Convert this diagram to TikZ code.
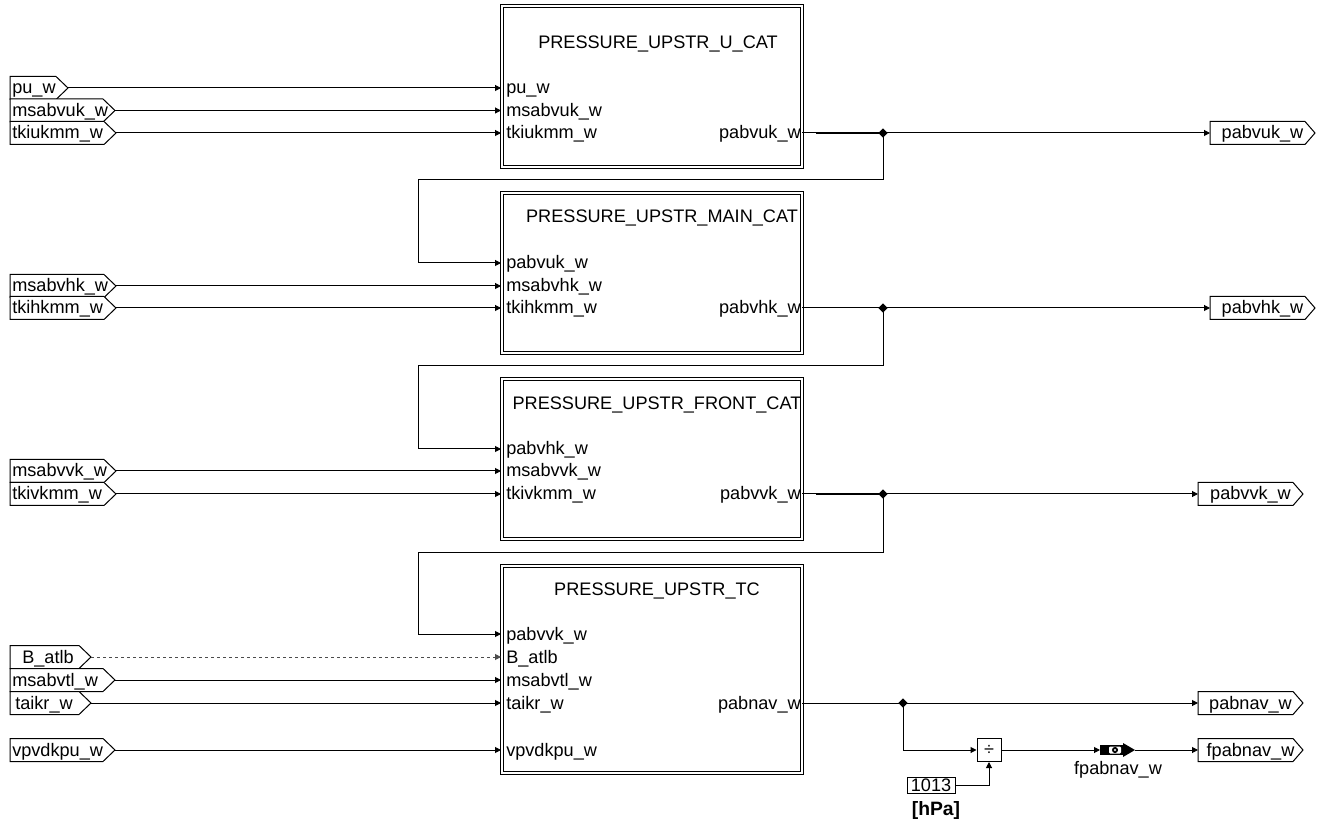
\documentclass[tikz,border=0pt]{standalone}
\usepackage{fontspec}
\setmainfont{Liberation Sans}
\usetikzlibrary{arrows.meta,shapes.geometric}
\newcommand{\intag}[5]{%
  \draw[tagbox] (10,#3-11.5) -- (#4-12,#3-11.5) -- (#4,#3) -- (#4-12,#3+11.5) -- (10,#3+11.5) -- cycle;
  \node[plab] (#1t) at (#5,#3+6) {#2};
  \coordinate (#1) at (#4,#3);}
\newcommand{\outtag}[5]{%
  \draw[tagbox] (#4,#3-11.5) -- (#5-10,#3-11.5) -- (#5,#3) -- (#5-10,#3+11.5) -- (#4,#3+11.5) -- cycle;
  \node[anchor=base,inner sep=0pt] (#1t) at ({(#4+#5)/2},#3+6) {#2};
  \coordinate (#1) at (#4,#3);}
\begin{document}
\begin{tikzpicture}[x=0.75pt,y=-0.75pt,
  font=\fontsize{13.6pt}{16pt}\selectfont,
  ln/.style={line width=0.75pt},
  arr/.style={line width=0.75pt,-{Triangle[length=4.5pt,width=4.5pt]}},
  tagbox/.style={draw,line width=0.75pt,fill=white},
  blk/.style={draw,double,double distance=1.5pt,line width=0.75pt,minimum width=225pt,inner sep=0pt},
  plab/.style={anchor=base west,inner sep=0pt},
  olab/.style={anchor=base east,inner sep=0pt},
  ttl/.style={anchor=base,inner sep=0pt},
  jn/.style={diamond,fill,inner sep=0pt,minimum size=7pt},
  thickseg/.style={line width=1.6pt}]
\useasboundingbox (0,0) rectangle (1318,823);

% blocks
\node[blk,minimum height=120.75pt] (B1) at (651.5,87) {};
\node[blk,minimum height=120pt] (B2) at (651.5,273.5) {};
\node[blk,minimum height=120pt] (B3) at (651.5,459.5) {};
\node[blk,minimum height=155.25pt] (B4) at (651.5,669) {};

% titles
\node[ttl] (T1) at (658,49) {PRESSURE\_UPSTR\_U\_CAT};
\node[ttl] (T2) at (662,223) {PRESSURE\_UPSTR\_MAIN\_CAT};
\node[ttl] (T3) at (657,410) {PRESSURE\_UPSTR\_FRONT\_CAT};
\node[ttl] (T4) at (657,595) {PRESSURE\_UPSTR\_TC};

% port labels block 1
\node[plab] (p11) at (506,94) {pu\_w};
\node[plab] (p12) at (506,117) {msabvuk\_w};
\node[plab] (p13) at (506,139) {tkiukmm\_w};
\node[olab] (q1) at (801,139) {pabvuk\_w};
% block 2
\node[plab] (p21) at (506,269) {pabvuk\_w};
\node[plab] (p22) at (506,292) {msabvhk\_w};
\node[plab] (p23) at (506,314) {tkihkmm\_w};
\node[olab] (q2) at (801,314) {pabvhk\_w};
% block 3
\node[plab] (p31) at (506,455) {pabvhk\_w};
\node[plab] (p32) at (506,477) {msabvvk\_w};
\node[plab] (p33) at (506,500) {tkivkmm\_w};
\node[olab] (q3) at (801,500) {pabvvk\_w};
% block 4
\node[plab] (p41) at (506,640) {pabvvk\_w};
\node[plab] (p42) at (506,663) {B\_atlb};
\node[plab] (p43) at (506,686) {msabvtl\_w};
\node[plab] (p44) at (506,709) {taikr\_w};
\node[plab] (p45) at (506,756) {vpvdkpu\_w};
\node[olab] (q4) at (801,709) {pabnav\_w};

% input tags
\intag{pu}{pu\_w}{88}{68}{12}
\intag{msabvuk}{msabvuk\_w}{110.5}{115}{12}
\intag{tkiukmm}{tkiukmm\_w}{133}{116}{12}
\intag{msabvhk}{msabvhk\_w}{286}{116}{12}
\intag{tkihkmm}{tkihkmm\_w}{308}{116}{12}
\intag{msabvvk}{msabvvk\_w}{471}{116}{12}
\intag{tkivkmm}{tkivkmm\_w}{494}{116}{12}
\intag{batlb}{B\_atlb}{657}{91}{22}
\intag{msabvtl}{msabvtl\_w}{680}{115}{12}
\intag{taikr}{taikr\_w}{703}{91}{15}
\intag{vpvdkpu}{vpvdkpu\_w}{750}{115}{12}

% output tags
\outtag{o1}{pabvuk\_w}{133}{1210}{1315}
\outtag{o2}{pabvhk\_w}{308}{1210}{1315}
\outtag{o3}{pabvvk\_w}{494}{1198}{1303}
\outtag{o4}{pabnav\_w}{703}{1198}{1303}
\outtag{o5}{fpabnav\_w}{750}{1198}{1303}

% input connections
\draw[arr] (pu) -- (B1.west |- pu);
\draw[arr] (msabvuk) -- (B1.west |- msabvuk);
\draw[arr] (tkiukmm) -- (B1.west |- tkiukmm);
\draw[arr] (msabvhk) -- (B2.west |- msabvhk);
\draw[arr] (tkihkmm) -- (B2.west |- tkihkmm);
\draw[arr] (msabvvk) -- (B3.west |- msabvvk);
\draw[arr] (tkivkmm) -- (B3.west |- tkivkmm);
\draw[arr,dashed,dash pattern=on 2.25pt off 2.25pt,draw=black!70] (batlb) -- (B4.west |- batlb);
\draw[arr] (msabvtl) -- (B4.west |- msabvtl);
\draw[arr] (taikr) -- (B4.west |- taikr);
\draw[arr] (vpvdkpu) -- (B4.west |- vpvdkpu);

% junctions
\node[jn] (j1) at (883,133) {};
\node[jn] (j2) at (883,308) {};
\node[jn] (j3) at (883,494) {};
\node[jn] (j4) at (903,703) {};

% outputs
\draw[ln] (B1.east |- j1) -- (j1.center);
\draw[thickseg] (816,133) -- (j1.center);
\draw[arr] (j1.center) -- (o1);
\draw[arr] (j1.center) |- (418,180) |- (B2.west |- 0,263);

\draw[ln] (B2.east |- j2) -- (j2.center);
\draw[arr] (j2.center) -- (o2);
\draw[arr] (j2.center) |- (418,366) |- (B3.west |- 0,449);

\draw[ln] (B3.east |- j3) -- (j3.center);
\draw[thickseg] (816,494) -- (j3.center);
\draw[arr] (j3.center) -- (o3);
\draw[arr] (j3.center) |- (418,552) |- (B4.west |- 0,634);

\draw[ln] (B4.east |- j4) -- (j4.center);
\draw[arr] (j4.center) -- (o4);

% divide and constant
\node[draw,ln,minimum width=18pt,minimum height=17.25pt,inner sep=0pt] (div) at (989,750) {÷};
\node[draw,ln,minimum width=36pt,minimum height=12pt,inner sep=0pt] (k) at (931,785) {1013};
\node[anchor=base,inner sep=0pt,font=\fontsize{14.5pt}{16pt}\selectfont\bfseries] (hpa) at (936,815) {[hPa]};
\draw[arr] (j4.center) |- (div.west);
\draw[arr] (k.east) -| (div.south);

% cast symbol
\coordinate (castL) at (1100,750);
\coordinate (castR) at (1135,750);
\fill (1100,745) rectangle (1123,755);
\fill[white,rounded corners=0.8pt] (1109,746.5) rectangle (1121,753.5);
\fill (1115,750) circle (2.3pt);
\fill[white] (1115,750) circle (0.8pt);
\fill (1123,743) -- (1135,750) -- (1123,757) -- cycle;
\node[anchor=base,inner sep=0pt] (castlab) at (1118,774) {fpabnav\_w};
\draw[arr] (div.east) -- (castL);
\draw[arr] (castR) -- (o5);
\end{tikzpicture}
\end{document}
